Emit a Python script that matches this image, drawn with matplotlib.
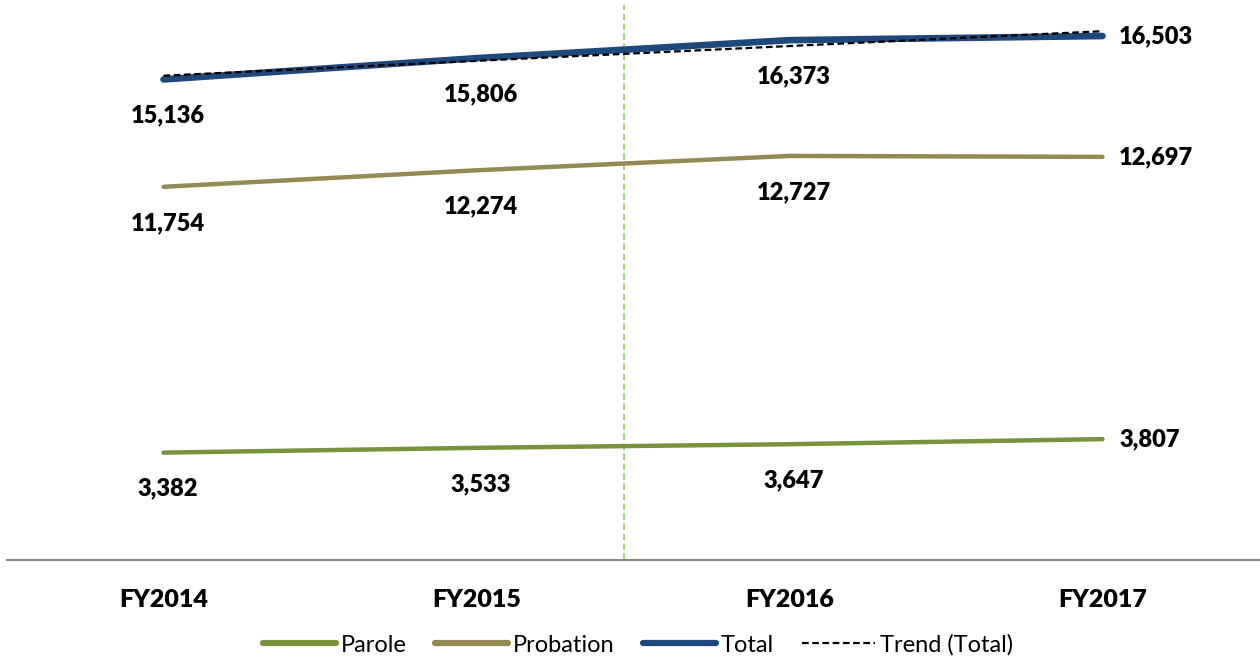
import matplotlib
matplotlib.use("Agg")
import matplotlib.pyplot as plt

plt.rcParams['font.family'] = ['Lato', 'DejaVu Sans']

categories = ["FY2014", "FY2015", "FY2016", "FY2017"]
parole = [3382, 3533, 3647, 3807]
probation = [11754, 12274, 12727, 12697]
total = [15136, 15806, 16373, 16503]
trend_total = [15254, 15721, 16188, 16655]

c_parole = "#77933C"
c_prob = "#948A54"
c_total = "#1F497D"

fig = plt.figure(figsize=(12.6, 6.61), dpi=100)
W, H = 1260, 661
ax = fig.add_axes([7 / W, (H - 560) / H, (1259 - 7) / W, (560 - 5) / H])

x = list(range(len(categories)))
ax.plot(x, parole, color=c_parole, lw=3.2, solid_capstyle='round', label="Parole", zorder=3)
ax.plot(x, probation, color=c_prob, lw=3.2, solid_capstyle='round', label="Probation", zorder=3)
ax.plot(x, total, color=c_total, lw=4.8, solid_capstyle='round', label="Total", zorder=3)
ax.plot(x, trend_total, color="black", lw=1.6, ls=(0, (3, 1.6)), label="Trend (Total)", zorder=4)

ax.axvline(1.47, color="#92D050", lw=1.2, ls=(0, (4, 2)), zorder=1)

ax.set_xlim(-0.5, 3.5)
ax.set_ylim(0, 555 / 0.03175)

# data labels
lab_kw = dict(fontsize=17, fontweight='heavy', color='black')
for series in (parole, probation, total):
    for i, v in enumerate(series):
        txt = f"{v:,}"
        if i < len(series) - 1:
            ax.annotate(txt, (i, v), xytext=(3, -26), textcoords='offset points',
                        ha='center', va='center', **lab_kw)
        else:
            ax.annotate(txt, (i, v), xytext=(12, 0), textcoords='offset points',
                        ha='left', va='center', **lab_kw)

for s in ('top', 'right', 'left'):
    ax.spines[s].set_visible(False)
ax.spines['bottom'].set_color('#898989')
ax.spines['bottom'].set_linewidth(1.5)
ax.set_yticks([])
ax.set_xticks(x)
ax.set_xticklabels(categories, fontsize=18, fontweight='heavy')
ax.tick_params(axis='x', length=0, pad=21)

leg = fig.legend(loc='center', bbox_to_anchor=(638 / W, (H - 645) / H), ncol=4,
                 frameon=False, fontsize=17, handlelength=3.1, handletextpad=0.2,
                 columnspacing=1.2)
for line in leg.get_lines():
    if line.get_label() != "Trend (Total)":
        line.set_linewidth(4.5)

fig.savefig("out.png", dpi=100)
